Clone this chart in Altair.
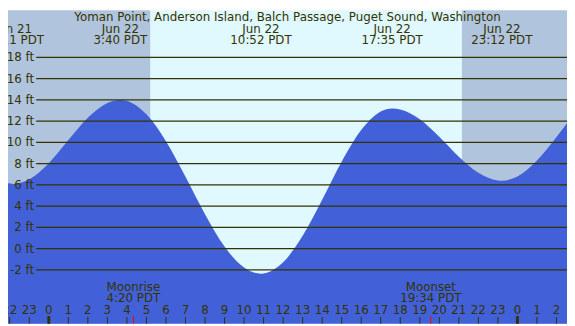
import altair as alt
import pandas as pd

# ---- data (hours measured from midnight, Jun 22; heights in feet) ----
tide_hours = [-2.09, -1.817, -1, 0, 1, 2, 3, 3.667, 4, 5, 6, 7, 8, 9, 10, 10.867,
              11, 12, 13, 14, 15, 16, 17, 17.583, 18, 19, 20, 21, 22, 23, 23.2,
              24, 25, 26, 26.54]
tide_feet = [6.15, 6.10, 6.53, 8.05, 10.22, 12.33, 13.72, 14.00, 13.91, 12.65,
             10.12, 6.77, 3.25, 0.20, -1.77, -2.35, -2.33, -1.28, 1.21, 4.61,
             8.18, 11.16, 12.91, 13.20, 13.11, 12.19, 10.54, 8.66, 7.14, 6.42,
             6.40, 6.80, 8.30, 10.52, 11.81]

extreme_hours = [-1.817, 3.667, 10.867, 17.583, 23.2]
extreme_dates = ["Jun 21", "Jun 22", "Jun 22", "Jun 22", "Jun 22"]
extreme_times = ["22:11 PDT", "3:40 PDT", "10:52 PDT", "17:35 PDT", "23:12 PDT"]

sun_rise = 5.21
sun_set = 21.16

moon_hours = [4.333, 19.567]
moon_names = ["Moonrise", "Moonset"]
moon_times = ["4:20 PDT", "19:34 PDT"]

grid_levels = [-2, 0, 2, 4, 6, 8, 10, 12, 14, 16, 18]
grid_labels = [f"{v} ft" for v in grid_levels]

hour_ticks = list(range(-2, 27))
hour_labels = [str(h % 24) for h in hour_ticks]
midnights = [0, 24]

title_text = "Yoman Point, Anderson Island, Balch Passage, Puget Sound, Washington"

# ---- layout constants ----
W, H = 567, 318
X_MIN, X_MAX = -2.09, 26.54
Y_MIN, Y_MAX = -7.06, 22.44
GRID_START = -0.647
LABEL_X = -0.75
TXT = "#333300"
BLUE = "#4261D8"
NIGHT = "#B0C4DE"
DAY = "#E0F8FF"
FONT = "DejaVu Sans"

xs = alt.Scale(domain=[X_MIN, X_MAX], nice=False, zero=False)
ys = alt.Scale(domain=[Y_MIN, Y_MAX], nice=False, zero=False)

tide_df = pd.DataFrame({"hour": tide_hours, "ft": tide_feet})
tide_df["base"] = Y_MIN

bg_df = pd.DataFrame({
    "start": [X_MIN, sun_rise, sun_set],
    "end": [sun_rise, sun_set, X_MAX],
    "fill": [NIGHT, DAY, NIGHT],
})

ext_df = pd.DataFrame({"hour": extreme_hours, "date": extreme_dates, "time": extreme_times})
ext_df["y_date"] = 20.63
ext_df["y_time"] = 19.59

moon_df = pd.DataFrame({"hour": moon_hours, "name": moon_names, "time": moon_times})
moon_df["y_name"] = -3.56
moon_df["y_time"] = -4.64
moon_df["y_top"] = -6.34
moon_df["y_bot"] = Y_MIN

grid_df = pd.DataFrame({"level": grid_levels, "label": grid_labels})
grid_df["x0"] = GRID_START
grid_df["x1"] = X_MAX
grid_df["xl"] = LABEL_X

hour_df = pd.DataFrame({"hour": hour_ticks, "label": hour_labels})
hour_df["y_lab"] = -5.75
hour_df["y_top"] = -6.43
hour_df["y_bot"] = Y_MIN

mid_df = pd.DataFrame({"hour": midnights})
mid_df["y_top"] = -6.34
mid_df["y_bot"] = Y_MIN

title_df = pd.DataFrame({"hour": [(X_MIN + X_MAX) / 2], "text": [title_text], "y": [21.81]})


def X(field):
    return alt.X(field, type="quantitative", scale=xs, axis=None)


def Y(field):
    return alt.Y(field, type="quantitative", scale=ys, axis=None)


def txt(**kw):
    return dict(baseline="middle", font=FONT, fontSize=12, color=TXT, **kw)


bg = alt.Chart(bg_df).mark_rect().encode(
    x=X("start"),
    x2="end:Q",
    y=alt.value(0),
    y2=alt.value(H),
    color=alt.Color("fill:N", scale=None),
)

area = alt.Chart(tide_df).mark_area(color=BLUE, interpolate="monotone", opacity=1).encode(
    x=X("hour"), y=Y("ft"), y2="base:Q",
)

grid = alt.Chart(grid_df).mark_rule(color=TXT, strokeWidth=1.3).encode(
    x=X("x0"), x2="x1:Q", y=Y("level"),
)

grid_text = alt.Chart(grid_df).mark_text(**txt(align="right")).encode(
    x=X("xl"), y=Y("level"), text="label:N",
)

title = alt.Chart(title_df).mark_text(**txt(align="center")).encode(
    x=X("hour"), y=Y("y"), text="text:N",
)

ext_date = alt.Chart(ext_df).mark_text(**txt(align="center")).encode(
    x=X("hour"), y=Y("y_date"), text="date:N",
)
ext_time = alt.Chart(ext_df).mark_text(**txt(align="center")).encode(
    x=X("hour"), y=Y("y_time"), text="time:N",
)

moon_name = alt.Chart(moon_df).mark_text(**txt(align="center")).encode(
    x=X("hour"), y=Y("y_name"), text="name:N",
)
moon_time = alt.Chart(moon_df).mark_text(**txt(align="center")).encode(
    x=X("hour"), y=Y("y_time"), text="time:N",
)

hour_text = alt.Chart(hour_df).mark_text(**txt(align="center")).encode(
    x=X("hour"), y=Y("y_lab"), text="label:N",
)

hour_rule = alt.Chart(hour_df).mark_rule(color=TXT, strokeWidth=1).encode(
    x=X("hour"), y=Y("y_top"), y2="y_bot:Q",
)

mid_rule = alt.Chart(mid_df).mark_rule(color=TXT, strokeWidth=3).encode(
    x=X("hour"), y=Y("y_top"), y2="y_bot:Q",
)

moon_rule = alt.Chart(moon_df).mark_rule(color="#FF0000", strokeWidth=1).encode(
    x=X("hour"), y=Y("y_top"), y2="y_bot:Q",
)

chart = alt.layer(
    bg, area, grid, grid_text, title, ext_date, ext_time,
    moon_name, moon_time, hour_text, hour_rule, mid_rule, moon_rule,
).properties(
    width=W, height=H, padding=0, autosize=alt.AutoSizeParams(type="none"),
).configure_view(stroke=None)

chart.save("out.html", embed_options={"renderer": "svg", "actions": False})
